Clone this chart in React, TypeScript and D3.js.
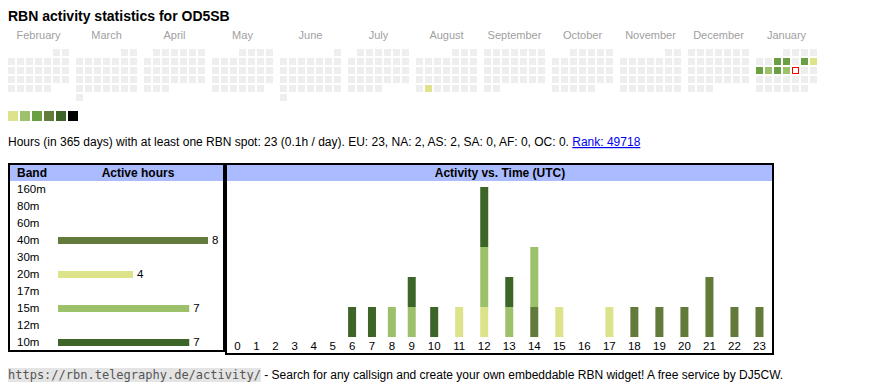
import React from "react";
import * as d3 from "d3";

// calendar
const monthNames = ["February", "March", "April", "May", "June", "July", "August", "September", "October", "November", "December", "January"];
const firstDay = "2025-02-01";
const activeDays = ["2025-08-26", "2026-01-07", "2026-01-08", "2026-01-10", "2026-01-11", "2026-01-12", "2026-01-13", "2026-01-14", "2026-01-15"];
const activeLevels = [0, 2, 2, 2, 0, 2, 1, 2, 1];
const today = "2026-01-16";
const levelColors = ["#dce38a", "#9dc16a", "#6a9f44", "#627a3a", "#3c6527", "#000000"];

// bands
const bands = ["160m", "80m", "60m", "40m", "30m", "20m", "17m", "15m", "12m", "10m"];
const bandHours = [0, 0, 0, 8, 0, 4, 0, 7, 0, 7];
const bandColors = ["#000000", "#3c6527", "#627a3a", "#627a3a", "#6a9f44", "#dce38a", "#9dc16a", "#9dc16a", "#6a9f44", "#3c6527"];

// activity per UTC hour, per band
const hours = d3.range(24);
const hours40m = [0, 0, 0, 0, 0, 0, 0, 0, 0, 0, 0, 0, 0, 0, 1, 0, 0, 0, 1, 1, 1, 2, 1, 1];
const hours20m = [0, 0, 0, 0, 0, 0, 0, 0, 0, 0, 0, 1, 1, 0, 0, 1, 0, 1, 0, 0, 0, 0, 0, 0];
const hours15m = [0, 0, 0, 0, 0, 0, 0, 0, 1, 1, 0, 0, 2, 1, 2, 0, 0, 0, 0, 0, 0, 0, 0, 0];
const hours10m = [0, 0, 0, 0, 0, 0, 1, 1, 0, 1, 1, 0, 2, 1, 0, 0, 0, 0, 0, 0, 0, 0, 0, 0];

const statsText = "Hours (in 365 days) with at least one RBN spot: 23 (0.1h / day). EU: 23, NA: 2, AS: 2, SA: 0, AF: 0, OC: 0. ";
const rankText = "Rank: 49718";
const widgetUrl = "https://rbn.telegraphy.de/activity/";
const footerText = " - Search for any callsign and create your own embeddable RBN widget! A free service by DJ5CW.";

const sans = "'Liberation Sans', Arial, sans-serif";
const parse = d3.timeParse("%Y-%m-%d");
const fmt = d3.timeFormat("%Y-%m-%d");

const App = () => {
  // calendar cells
  const start = parse(firstDay)!;
  const monthStarts = d3.timeMonth.range(start, d3.timeMonth.offset(start, 12));
  const levelByDay = new Map(activeDays.map((d, i) => [d, activeLevels[i]]));
  const monthX = d3.scaleBand<number>().domain(d3.range(12)).range([8, 8 + 68 * 12 - 7]).paddingInner(7 / 68);
  const cell = 9;
  const calTop = 49;

  const cells = monthStarts.flatMap((m, mi) => {
    const offset = (m.getDay() + 6) % 7;
    return d3.timeDay.range(m, d3.timeMonth.offset(m, 1)).map((d) => {
      const idx = offset + d.getDate() - 1;
      return {
        key: fmt(d),
        x: monthX(mi)! + (idx % 7) * cell,
        y: calTop + Math.floor(idx / 7) * cell,
      };
    });
  });

  // band table
  const rowY = d3.scalePoint<string>().domain(bands).range([193, 346]);
  const bandX = d3.scaleLinear().domain([0, d3.max(bandHours)!]).range([0, 150]);

  // hour chart
  const table = hours.map((h) => ({
    hour: h,
    "40m": hours40m[h],
    "20m": hours20m[h],
    "15m": hours15m[h],
    "10m": hours10m[h],
  }));
  const stackKeys = bands.filter((b) => ["40m", "20m", "15m", "10m"].includes(b));
  const series = d3.stack<any>().keys(stackKeys)(table);
  const totals = table.map((r) => stackKeys.reduce((s, k) => s + r[k], 0));

  // column widths like an auto table layout: label or bar width plus padding
  const weights = hours.map((h) => Math.max(String(h).length * 7, totals[h] > 0 ? 8 : 0) + 15.2);
  const innerLeft = 228;
  const innerWidth = 544;
  const k = innerWidth / d3.sum(weights);
  const cum = d3.cumsum(weights);
  const hourX = d3
    .scaleOrdinal<number, number>()
    .domain(hours)
    .range(hours.map((h) => innerLeft + (cum[h] - weights[h] / 2) * k));
  const y = d3.scaleLinear().domain([0, d3.max(totals)!]).range([337, 187]);
  const colorOf = d3.scaleOrdinal<string, string>().domain(bands).range(bandColors);

  return (
    <svg width={870} height={390} style={{ position: "absolute", left: 0, top: 0 }} fontFamily={sans}>
      <rect width={870} height={390} fill="#fff" />
      <text x={8} y={21} fontSize={14} fontWeight="bold" fill="#000">
        RBN activity statistics for OD5SB
      </text>

      {monthNames.map((m, i) => (
        <text key={m} x={monthX(i)! + monthX.bandwidth() / 2} y={39} fontSize={11} fill="#a0a0a0" textAnchor="middle">
          {m}
        </text>
      ))}
      {cells.map((c) => {
        const lvl = levelByDay.get(c.key);
        if (c.key === today) {
          return <rect key={c.key} x={c.x + 0.5} y={c.y + 0.5} width={6} height={6} fill="#fff" stroke="#ff0000" strokeWidth={1} />;
        }
        return <rect key={c.key} x={c.x} y={c.y} width={7} height={7} fill={lvl === undefined ? "#eeeeee" : levelColors[lvl]} />;
      })}
      {levelColors.map((c, i) => (
        <rect key={c} x={8 + i * 12} y={111} width={10} height={10} fill={c} />
      ))}

      <text x={8} y={146} fontSize={12} fill="#000">
        {statsText}
        <tspan fill="#0000ee" style={{ textDecoration: "underline" }}>
          {rankText}
        </tspan>
      </text>

      {/* band table */}
      <rect x={9} y={164} width={215} height={187} fill="#fff" stroke="#000" strokeWidth={2} />
      <rect x={10} y={165} width={213} height={16} fill="#aabbff" />
      <text x={17} y={177} fontSize={12} fontWeight="bold">Band</text>
      <text x={138} y={177} fontSize={12} fontWeight="bold" textAnchor="middle">Active hours</text>
      {bands.map((b, i) => (
        <g key={b}>
          <text x={17} y={rowY(b)} fontSize={11.5}>{b}</text>
          {bandHours[i] > 0 && (
            <>
              <rect x={58} y={rowY(b)! - 7} width={bandX(bandHours[i])} height={7} fill={colorOf(b)} />
              <text x={58 + bandX(bandHours[i]) + 4} y={rowY(b)} fontSize={11.5}>{bandHours[i]}</text>
            </>
          )}
        </g>
      ))}

      {/* hour chart */}
      <rect x={226} y={164} width={547} height={190} fill="#fff" stroke="#000" strokeWidth={2} />
      <rect x={227} y={165} width={545} height={16} fill="#aabbff" />
      <text x={500} y={177} fontSize={12} fontWeight="bold" textAnchor="middle">Activity vs. Time (UTC)</text>
      {series.map((s) => (
        <g key={s.key} fill={colorOf(s.key)}>
          {s.map((d, i) =>
            d[1] > d[0] ? (
              <rect key={i} x={hourX(i) - 4} y={y(d[1])} width={8} height={y(d[0]) - y(d[1])} />
            ) : null
          )}
        </g>
      ))}
      {hours.map((h) => (
        <text key={h} x={hourX(h)} y={350} fontSize={11.5} textAnchor="middle">{h}</text>
      ))}

      {/* footer */}
      <rect x={8} y={368} width={widgetUrl.length * 7.225} height={14} fill="#e4e4e4" />
      <text x={8} y={379} fontSize={12}>
        <tspan fontFamily="'DejaVu Sans Mono', monospace" fontSize={12} fill="#555">{widgetUrl}</tspan>
        <tspan fill="#000">{footerText}</tspan>
      </text>
    </svg>
  );
};

export default App;
